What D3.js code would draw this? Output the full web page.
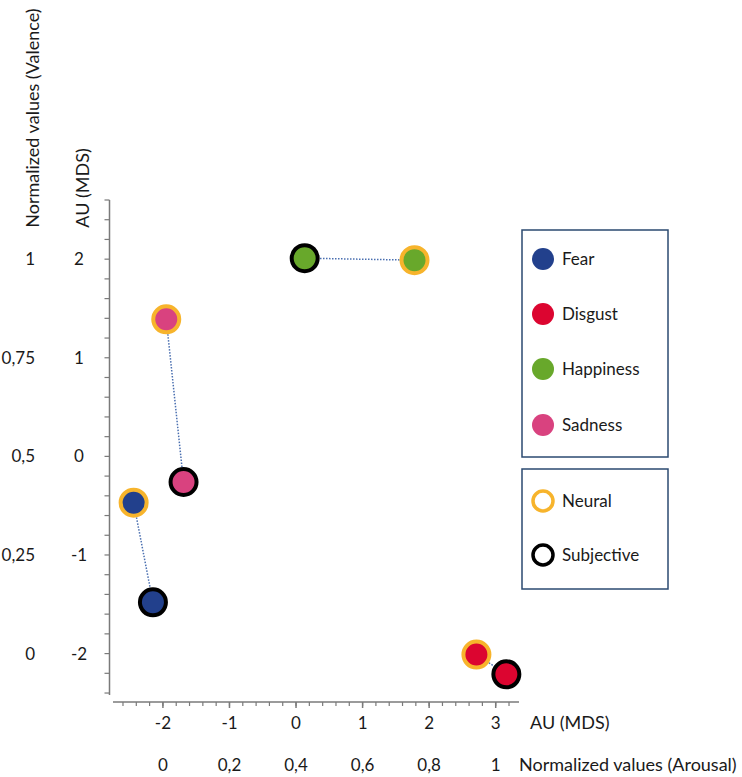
<!DOCTYPE html>
<html><head><meta charset="utf-8">
<script src="https://cdn.jsdelivr.net/npm/d3@7"></script>
<style>body{margin:0;background:#fff}svg{display:block}text{font-family:Lato,"Open Sans",sans-serif;fill:#1a1a1a}</style>
</head><body>
<script>
const emotions = ["Fear","Disgust","Happiness","Sadness"];
const emotionColors = ["#22408c","#dc0530","#68a82b","#d9427f"];
const neuralX = [-2.44, 2.71, 1.78, -1.95];
const neuralY = [-0.47, -2.01, 1.99, 1.39];
const subjectiveX = [-2.15, 3.16, 0.13, -1.69];
const subjectiveY = [-1.48, -2.21, 2.01, -0.26];
const xTicksAU = [-2,-1,0,1,2,3];
const xTicksNorm = ["0","0,2","0,4","0,6","0,8","1"];
const yTicksAU = [-2,-1,0,1,2];
const yTicksNorm = ["0","0,25","0,5","0,75","1"];
const conditions = ["Neural","Subjective"];
const conditionColors = ["#f7b42c","#000000"];

const W=742,H=777;
const svg=d3.select("body").append("svg").attr("width",W).attr("height",H);
const x=d3.scaleLinear().domain([-2.75,3.35]).range([113,519]);
const y=d3.scaleLinear().domain([-2.42,2.6]).range([695,200]);
const axisColor="#7a7a7a";
const fs=17, fsT=18;

// y axis
const yAxis=svg.append("g").attr("transform","translate(109.5,0)");
yAxis.append("line").attr("y1",y(2.6)).attr("y2",y(-2.42)).attr("stroke",axisColor).attr("stroke-width",1.5);
yAxis.selectAll(".mt").data(d3.range(-12,14).map(d=>d*0.2)).join("line")
  .attr("x1",-5).attr("x2",0).attr("y1",d=>y(d)).attr("y2",d=>y(d)).attr("stroke",axisColor).attr("stroke-width",1.2);
svg.selectAll(".yl").data(yTicksAU).join("text").attr("x",79).attr("y",d=>y(d)).attr("dy","0.35em")
  .attr("text-anchor","middle").attr("font-size",fs).text(d=>d);
svg.selectAll(".yn").data(yTicksNorm).join("text").attr("x",35).attr("y",(d,i)=>y(yTicksAU[i])).attr("dy","0.35em")
  .attr("text-anchor","end").attr("font-size",fs).text(d=>d);
svg.append("text").attr("transform","translate(39,118) rotate(-90)").attr("text-anchor","middle").attr("font-size",fsT).text("Normalized values (Valence)");
svg.append("text").attr("transform","translate(89,188) rotate(-90)").attr("text-anchor","middle").attr("font-size",fsT).text("AU (MDS)");

// x axis
const xAxis=svg.append("g").attr("transform","translate(0,702)");
xAxis.append("line").attr("x1",x(-2.75)).attr("x2",x(3.35)).attr("stroke",axisColor).attr("stroke-width",1.5);
xAxis.selectAll(".mt").data(d3.range(-13,17).map(d=>d*0.2)).join("line")
  .attr("y1",0).attr("y2",4).attr("x1",d=>x(d)).attr("x2",d=>x(d)).attr("stroke",axisColor).attr("stroke-width",1.2);
xAxis.selectAll(".Mt").data(xTicksAU).join("line")
  .attr("y1",0).attr("y2",6).attr("x1",d=>x(d)).attr("x2",d=>x(d)).attr("stroke",axisColor).attr("stroke-width",1.5);
svg.selectAll(".xl").data(xTicksAU).join("text").attr("x",d=>x(d)).attr("y",723).attr("dy","0.35em")
  .attr("text-anchor","middle").attr("font-size",fs).text(d=>d);
svg.selectAll(".xn").data(xTicksNorm).join("text").attr("x",(d,i)=>x(xTicksAU[i])).attr("y",765).attr("dy","0.35em")
  .attr("text-anchor","middle").attr("font-size",fs).text(d=>d);
svg.append("text").attr("x",530).attr("y",723).attr("dy","0.35em").attr("font-size",fsT).text("AU (MDS)");
svg.append("text").attr("x",519).attr("y",765).attr("dy","0.35em").attr("font-size",fsT).text("Normalized values (Arousal)");

// connectors
emotions.forEach((e,i)=>{
  svg.append("line").attr("x1",x(neuralX[i])).attr("y1",y(neuralY[i])).attr("x2",x(subjectiveX[i])).attr("y2",y(subjectiveY[i]))
    .attr("stroke","#4a6fb0").attr("stroke-width",1.5).attr("stroke-dasharray","1.5,1.5");
});
// points
emotions.forEach((e,i)=>{
  svg.append("circle").attr("cx",x(neuralX[i])).attr("cy",y(neuralY[i])).attr("r",13)
    .attr("fill",emotionColors[i]).attr("stroke",conditionColors[0]).attr("stroke-width",4);
  svg.append("circle").attr("cx",x(subjectiveX[i])).attr("cy",y(subjectiveY[i])).attr("r",13)
    .attr("fill",emotionColors[i]).attr("stroke",conditionColors[1]).attr("stroke-width",4);
});

// legend
const boxStroke="#2b4a70";
svg.append("rect").attr("x",522).attr("y",230).attr("width",146).attr("height",227).attr("fill","none").attr("stroke",boxStroke).attr("stroke-width",1.5);
svg.append("rect").attr("x",522).attr("y",469).attr("width",146).attr("height",120).attr("fill","none").attr("stroke",boxStroke).attr("stroke-width",1.5);
const legY=[259,314,369,425];
emotions.forEach((e,i)=>{
  svg.append("circle").attr("cx",543).attr("cy",legY[i]).attr("r",11).attr("fill",emotionColors[i]);
  svg.append("text").attr("x",562).attr("y",legY[i]).attr("dy","0.35em").attr("font-size",fs).text(e);
});
const condY=[501,555];
conditions.forEach((c,i)=>{
  svg.append("circle").attr("cx",543).attr("cy",condY[i]).attr("r",10).attr("fill","#fff").attr("stroke",conditionColors[i]).attr("stroke-width",3.5);
  svg.append("text").attr("x",562).attr("y",condY[i]).attr("dy","0.35em").attr("font-size",fs).text(c);
});
</script>
</body></html>
